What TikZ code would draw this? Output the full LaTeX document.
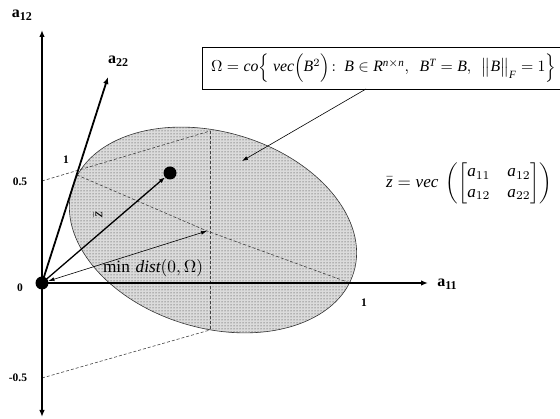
\documentclass[tikz,border=0pt]{standalone}
\usepackage{amsmath}
\usepackage{fontspec}
\setmainfont{Liberation Serif}
\usetikzlibrary{arrows.meta,patterns}
\begin{document}
\begin{tikzpicture}[x=1pt,y=-1pt,
  axis/.style={line width=1.8pt,-{Latex[length=7pt,width=5.5pt]}},
  vecst/.style={line width=1.3pt,-{Latex[length=6pt,width=4.5pt]}},
  thinarr/.style={line width=0.6pt,{Latex[length=6pt,width=4pt]}-{Latex[length=6pt,width=4pt]}},
  conn/.style={line width=0.6pt,-{Latex[length=6pt,width=4pt]}},
  dsh/.style={line width=0.6pt,black!75,dash pattern=on 3pt off 2pt},
  dotst/.style={circle,fill=black,inner sep=0pt,minimum size=13pt},
  lab/.style={inner sep=0pt,font=\fontsize{16}{16}\selectfont\bfseries},
  num/.style={inner sep=0pt,font=\fontsize{11.5}{11.5}\selectfont\bfseries},
  boxst/.style={draw,line width=0.7pt,inner sep=0pt,fill=white}
]
\useasboundingbox (0,0) rectangle (560,419);
% points
\coordinate (O) at (42,283);
\coordinate (a12top) at (42,30);
\coordinate (a12bot) at (42,417);
\coordinate (a11end) at (428,283);
\coordinate (a22end) at (108,77);
\coordinate (C) at (213,230);
\coordinate (q05) at (42,181);
\coordinate (qm05) at (42,378);
\coordinate (top) at (210,131);
\coordinate (bot) at (210,330);
\coordinate (A22) at (77,175);
\coordinate (A11) at (350,283);
\coordinate (P) at (207,231);
\coordinate (bstart) at (366,89);
\coordinate (bend) at (242,161);
% ellipse
\fill[black!14,rotate around={-16.6:(C)}] (C) ellipse [x radius=147pt, y radius=98pt];
\fill[pattern=dots,pattern color=black!85,rotate around={-16.6:(C)}] (C) ellipse [x radius=147pt, y radius=98pt];
\draw[line width=0.6pt,black!80,rotate around={-16.6:(C)}] (C) ellipse [x radius=147pt, y radius=98pt];
% dashed lines
\draw[dsh] (q05) -- (top);
\draw[dsh] (top) -- (bot);
\draw[dsh] (qm05) -- (bot);
\draw[dsh] (A22) -- (P) -- (A11);
% axes
\draw[axis] (O) -- (a12top);
\draw[axis] (O) -- (a12bot);
\draw[axis] (O) -- (a11end);
\draw[axis] (O) -- (a22end);
% dots
\node[dotst] (Odot) at (O) {};
\node[dotst] (Z) at (170,173) {};
% vectors
\draw[vecst] (O) -- (Z);
\draw[thinarr] (P) -- (Odot);
% box
\node[boxst,minimum width=358pt,minimum height=42pt,anchor=north west] (omega) at (202,47) {};
\node[inner sep=0pt,anchor=west] (omegatxt) at (211,68) {\resizebox{345pt}{!}{$\Omega=\mathit{co}\Big\{\ \mathit{vec}\Big(\mathit{B}^2\Big)\!:\ \mathit{B}\in \mathit{R}^{\mathit{n}\times \mathit{n}},\ \ \mathit{B}^{\mathit{T}}=\mathit{B},\ \ \big\|\mathit{B}\big\|_{\mathit{F}}=1\Big\}$}};
\draw[conn] (bstart) -- (bend);
% z formula
\node[inner sep=0pt,anchor=west] (zform) at (386,183) {\resizebox{166pt}{!}{$\bar{\mathit{z}}=\mathit{vec}\ \left(\begin{bmatrix} \mathit{a}_{11} & \mathit{a}_{12}\\ \mathit{a}_{12} & \mathit{a}_{22}\end{bmatrix}\right)$}};
% labels
\node[lab] (l12) at (22,15) {a\raisebox{-3pt}{\fontsize{12}{12}\selectfont 12}};
\node[lab] (l22) at (118,61) {a\raisebox{-3pt}{\fontsize{12}{12}\selectfont 22}};
\node[lab] (l11) at (447,284) {a\raisebox{-3pt}{\fontsize{12}{12}\selectfont 11}};
\node[num] (t05) at (20,182) {0.5};
\node[num] (t0) at (20,288) {0};
\node[num] (tm05) at (18,378) {-0.5};
\node[num] (t1a) at (66,160) {1};
\node[num] (t1b) at (364,303) {1};
\node[inner sep=0pt,rotate=90] (zlab) at (98,215) {\fontsize{15}{15}\selectfont$\bar{\mathit{z}}$};
\node[inner sep=0pt] (mind) at (153,268) {\resizebox{100pt}{!}{$\min\,\mathit{dist}(0,\Omega)$}};
\end{tikzpicture}
\end{document}
